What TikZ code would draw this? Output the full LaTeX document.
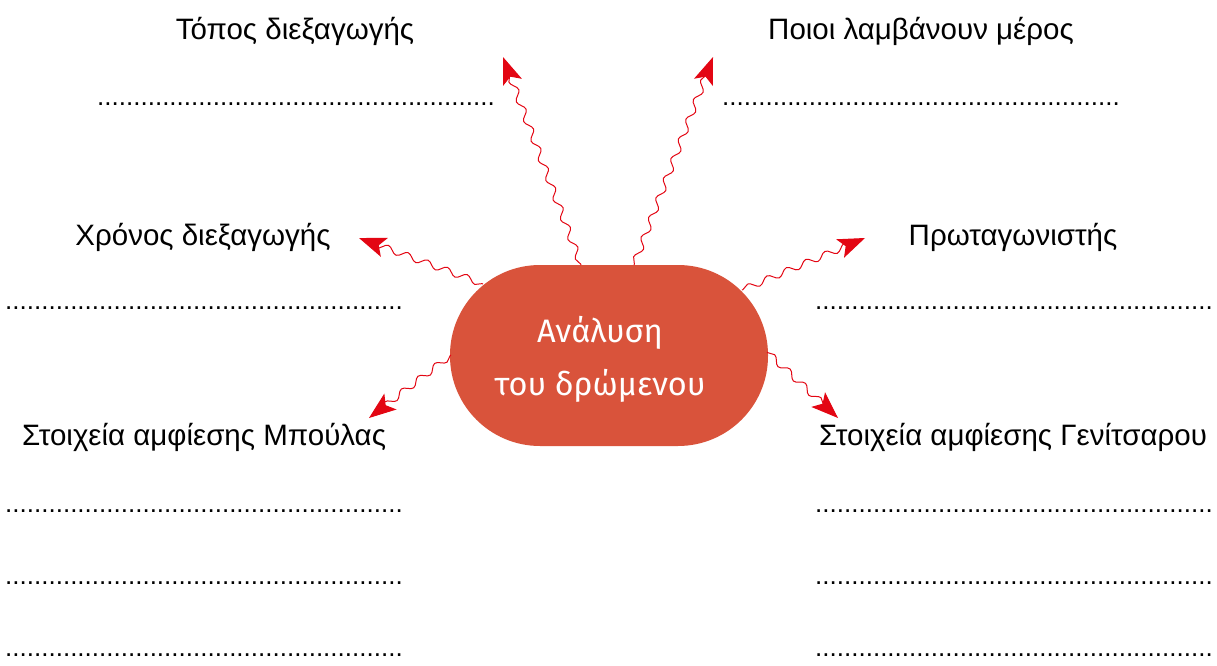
\documentclass[tikz,border=0pt]{standalone}
\usepackage{fontspec}
\setmainfont{Liberation Sans}
\newfontfamily\centerfont{Fira Sans}
\usetikzlibrary{decorations.pathmorphing,arrows.meta}
\definecolor{nodered}{HTML}{D9533B}
\definecolor{arrred}{HTML}{E30613}
\newcommand\dotrow{\foreach\i in {1,...,55}{.}}
\begin{document}
\begin{tikzpicture}[x=1pt,y=-1pt,
  lbl/.style={anchor=base, font=\fontsize{29.5}{34}\selectfont, inner sep=0pt},
  dotsline/.style={anchor=base west, font=\fontsize{26}{30}\selectfont, inner sep=0pt},
  ctext/.style={anchor=base, text=white, font=\centerfont\fontsize{32.5}{38}\selectfont, inner sep=0pt},
  wave/.style={draw=arrred, line width=1pt, decorate,
    decoration={snake, amplitude=3.3pt, segment length=21pt, post length=12pt, pre length=1pt},
    -{Stealth[length=27pt,width=20pt,inset=6pt]}}]
\useasboundingbox (0,0) rectangle (1217,666);
\node[fill=nodered, rounded corners=90pt, minimum width=318pt, minimum height=181pt, inner sep=0pt] (c) at (609,355.5) {};
\node[ctext] (t1) at (600,342) {Ανάλυση};
\node[ctext] (t2) at (600,395) {του δρώμενου};
% labels
\node[lbl] (l1) at (295,40) {Τόπος διεξαγωγής};
\node[lbl] (l2) at (921,40) {Ποιοι λαμβάνουν μέρος};
\node[lbl] (l3) at (203,245) {Χρόνος διεξαγωγής};
\node[lbl] (l4) at (1013,245) {Πρωταγωνιστής};
\node[lbl] (l5) at (204,445) {Στοιχεία αμφίεσης Μπούλας};
\node[lbl] (l6) at (1013,445) {Στοιχεία αμφίεσης Γενίτσαρου};
% dotted rows
\node[dotsline] (d1) at (97,106) {\dotrow};
\node[dotsline] (d2) at (722,106) {\dotrow};
\node[dotsline] (d3) at (5,309) {\dotrow};
\node[dotsline] (d4) at (815,309) {\dotrow};
\node[dotsline] (d5) at (5,512) {\dotrow};
\node[dotsline] (d6) at (815,512) {\dotrow};
\node[dotsline] (d7) at (5,584) {\dotrow};
\node[dotsline] (d8) at (815,584) {\dotrow};
\node[dotsline] (d9) at (5,656) {\dotrow};
\node[dotsline] (d10) at (815,656) {\dotrow};
% arrow ends
\coordinate (s1) at (581,265); \coordinate (e1) at (503,57);
\coordinate (s2) at (634,265); \coordinate (e2) at (713,57);
\coordinate (s3) at (483,284); \coordinate (e3) at (359,238);
\coordinate (s4) at (451,355); \coordinate (e4) at (369,418);
\coordinate (s5) at (742,290); \coordinate (e5) at (865,238);
\coordinate (s6) at (767,352); \coordinate (e6) at (838,418);
\foreach \k in {1,...,6}{\draw[wave] (s\k) -- (e\k);}
\end{tikzpicture}
\end{document}
